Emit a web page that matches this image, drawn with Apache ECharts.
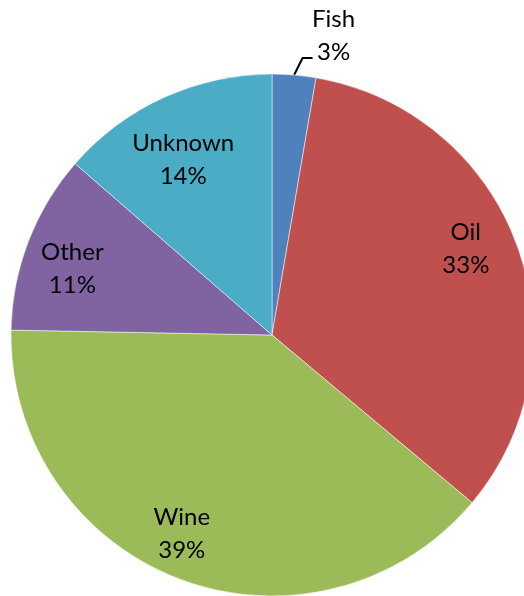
<!DOCTYPE html>
<html>
<head>
<meta charset="utf-8">
<script src="https://cdn.jsdelivr.net/npm/echarts@6/dist/echarts.min.js"></script>
<style>
  html, body { margin: 0; padding: 0; background: #fff; }
  #chart { width: 524px; height: 596px; }
</style>
</head>
<body>
<div id="chart"></div>
<script>
// Cargo categories and their shares (percent)
const categories = ['Fish', 'Oil', 'Wine', 'Other', 'Unknown'];
const shares = [2.7, 33.4, 39.2, 11.1, 13.6];
const colors = ['#4F81BD', '#C0504D', '#9BBB59', '#8064A2', '#4BACC6'];

const FONT = 'Lato';
const FONT_SIZE = 24;
const LINE_H = 33;
const CX = 272, CY = 335, R = 261;

// Small per-label nudges (px) applied on top of the computed label spot
const labelNudge = [[0, 0], [-5, -13], [-16, 0], [-2, 10], [-1, 18]];

const pctText = p => Math.round(p.percent) + '%';

const sliceData = categories.map((name, i) => ({
  name: name,
  value: shares[i],
  itemStyle: { color: colors[i] },
  label: i === 0 ? {
    show: true,
    position: 'outside',
    distanceToLabelLine: 1,
    formatter: p => '{t|' + p.name + '}\n{t|' + pctText(p) + '}',
    padding: [0, 0, 45, 0],
    rich: { t: { width: 40, align: 'center', fontSize: FONT_SIZE, lineHeight: LINE_H, fontFamily: FONT, color: '#000' } }
  } : { show: false },
  labelLine: i === 0 ? { show: true, length: 17, length2: 17, lineStyle: { color: '#000', width: 2 } } : { show: false }
}));

// Transparent twin disc, 1.6x the radius, so "inside" labels land at 0.8 of the real radius
const labelData = categories.map((name, i) => ({
  name: name,
  value: shares[i],
  label: { show: i !== 0 }
}));

const chart = echarts.init(document.getElementById('chart'), null, { renderer: 'canvas' });
chart.setOption({
  animation: false,
  series: [
    {
      type: 'pie',
      center: [CX, CY],
      radius: [0, R],
      startAngle: 90,
      clockwise: true,
      avoidLabelOverlap: false,
      itemStyle: { borderColor: '#fff', borderWidth: 0.5 },
      emphasis: { disabled: true },
      data: sliceData,
      // tilt the first leg of the leader line a little toward the label
      labelLayout: function (params) {
        if (params.dataIndex === 0 && params.labelLinePoints) {
          const pts = params.labelLinePoints.map(pt => [pt[0], pt[1]]);
          pts[1][0] += 7;
          return { labelLinePoints: pts };
        }
        return {};
      }
    },
    {
      type: 'pie',
      center: [CX, CY],
      radius: [0, R * 1.6],
      startAngle: 90,
      clockwise: true,
      silent: true,
      avoidLabelOverlap: false,
      itemStyle: { color: 'rgba(0,0,0,0)' },
      label: {
        position: 'inside',
        formatter: p => p.name + '\n' + pctText(p),
        fontSize: FONT_SIZE,
        lineHeight: LINE_H,
        fontFamily: FONT,
        color: '#000'
      },
      labelLine: { show: false },
      labelLayout: function (params) {
        const n = labelNudge[params.dataIndex];
        return { dx: n[0], dy: n[1] };
      },
      data: labelData
    }
  ]
});
</script>
</body>
</html>
